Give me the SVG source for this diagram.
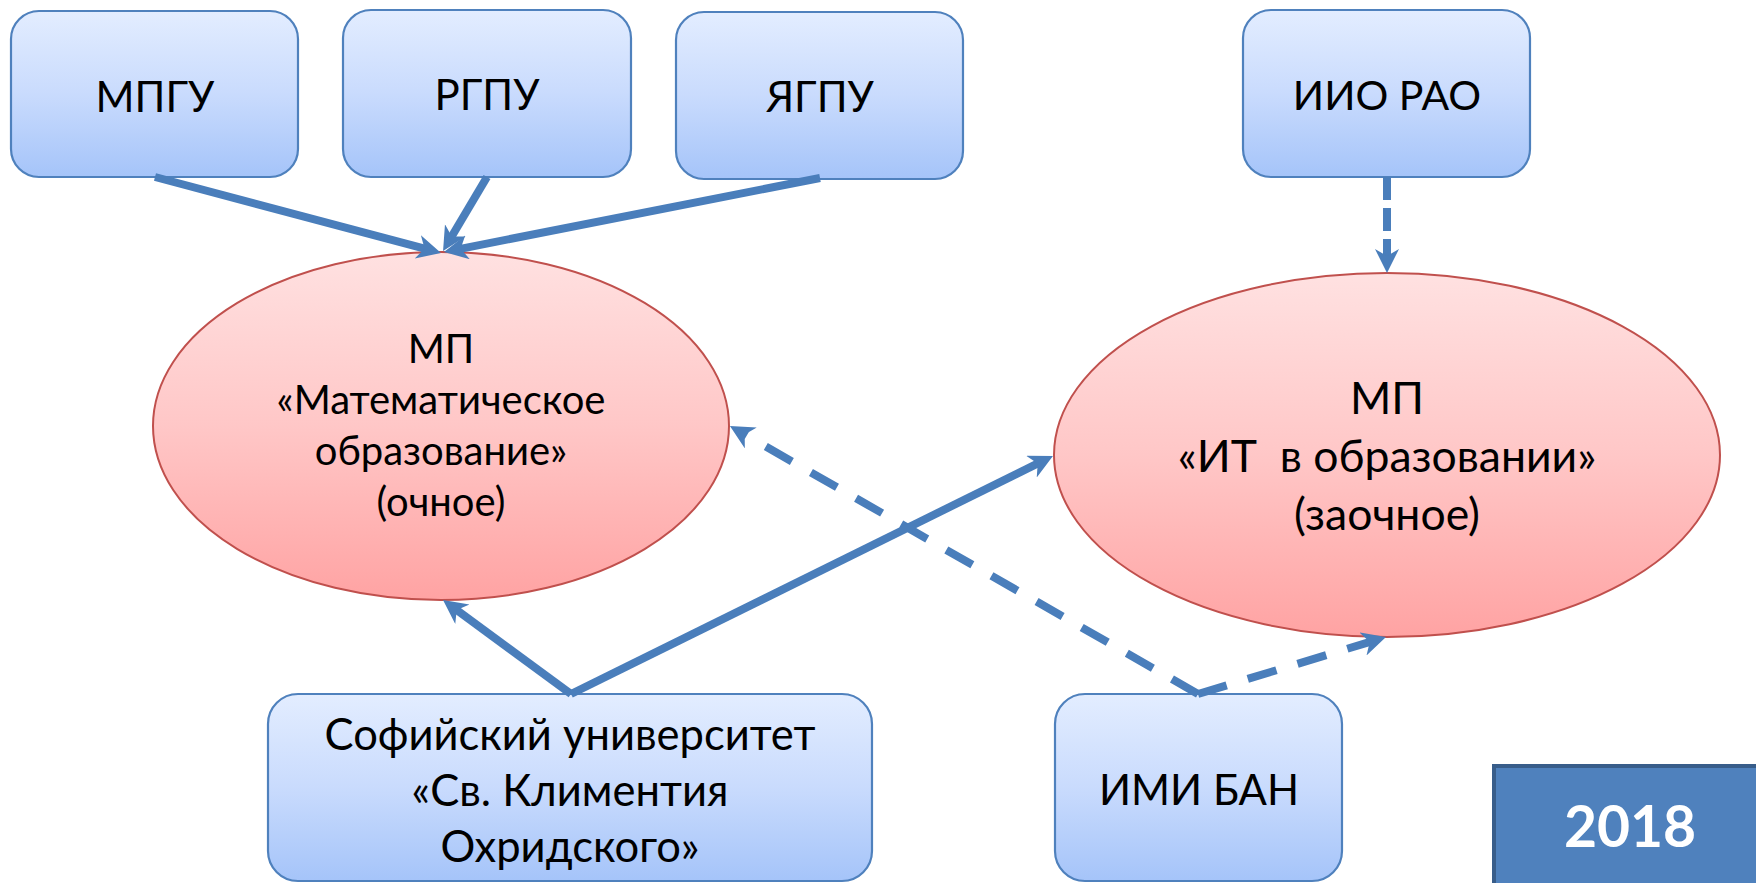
<svg xmlns="http://www.w3.org/2000/svg" width="1756" height="883" viewBox="0 0 1756 883">
<defs>
<linearGradient id="gBox" x1="0" y1="0" x2="0" y2="1">
<stop offset="0" stop-color="#E3EDFF"/>
<stop offset="0.5" stop-color="#C9DBFD"/>
<stop offset="1" stop-color="#A5C4F9"/>
</linearGradient>
<linearGradient id="gEll" x1="0" y1="0" x2="0" y2="1">
<stop offset="0" stop-color="#FFE1E1"/>
<stop offset="0.5" stop-color="#FFC7C7"/>
<stop offset="1" stop-color="#FFA3A3"/>
</linearGradient>
<marker id="arr" markerUnits="userSpaceOnUse" markerWidth="26" markerHeight="26" refX="10" refY="12" orient="auto">
<path d="M24,12 L0,0 L7,12 L0,24 Z" fill="#4A7EBB"/>
</marker>
<style>
.box{fill:url(#gBox);stroke:#4F81BD;stroke-width:2.2}
.ell{fill:url(#gEll);stroke:#C0504D;stroke-width:2}
.t{font-family:Lato,'Noto Sans',sans-serif;font-size:42px;fill:#000;text-anchor:middle}
.e1{font-size:40px}
.e2{font-size:44.5px}
.s{font-size:43.5px}
.c{fill:none;stroke:#4A7EBB;stroke-width:8;marker-end:url(#arr)}
.dash{stroke-dasharray:30 22}
.sdash{stroke-dasharray:23 8}
</style>
</defs>

<g id="node-mpgu">
<rect class="box" x="11" y="11" width="287" height="166" rx="28"/>
<text class="t" x="155" y="112">МПГУ</text>
</g>
<g id="node-rgpu">
<rect class="box" x="343" y="10" width="288" height="167" rx="28"/>
<text class="t" x="487" y="110">РГПУ</text>
</g>
<g id="node-yagpu">
<rect class="box" x="676" y="12" width="287" height="167" rx="28"/>
<text class="t" x="820" y="112">ЯГПУ</text>
</g>
<g id="node-iio">
<rect class="box" x="1243" y="10" width="287" height="167" rx="28"/>
<text class="t" style="font-size:41px" x="1387" y="110">ИИО РАО</text>
</g>

<g id="node-mp1">
<ellipse class="ell" cx="441" cy="426" rx="288" ry="174"/>
<text class="t e1" x="441" y="363">МП</text>
<text class="t e1" x="441" y="414">«Математическое</text>
<text class="t e1" x="441" y="465">образование»</text>
<text class="t e1" x="441" y="516">(очное)</text>
</g>
<g id="node-mp2">
<ellipse class="ell" cx="1387" cy="455" rx="333" ry="182"/>
<text class="t e2" x="1387" y="414">МП</text>
<text class="t e2" style="white-space:pre" x="1387" y="472" xml:space="preserve">«ИТ  в образовании»</text>
<text class="t e2" x="1387" y="530">(заочное)</text>
</g>

<g id="node-sofia">
<rect class="box" x="268" y="694" width="604" height="187" rx="30"/>
<text class="t s" x="570" y="750">Софийский университет</text>
<text class="t s" x="570" y="806">«Св. Климентия</text>
<text class="t s" x="570" y="862">Охридского»</text>
</g>
<g id="node-imi">
<rect class="box" x="1055" y="694" width="287" height="187" rx="30"/>
<text class="t" x="1199" y="805">ИМИ БАН</text>
</g>

<g id="node-2018">
<rect x="1494" y="766" width="300" height="150" fill="#4F81BD" stroke="#385D8A" stroke-width="4"/>
<text class="t" style="font-size:57px;font-weight:bold;fill:#FFFFFF" x="1630" y="847">2018</text>
</g>

<g id="connectors">
<line class="c" x1="155" y1="177" x2="427.5" y2="249.4"/>
<line class="c" x1="487" y1="177" x2="450.2" y2="239"/>
<line class="c" x1="820" y1="178" x2="457.7" y2="249.3"/>
<line class="c sdash" x1="1387" y1="177" x2="1387" y2="259"/>
<line class="c dash" x1="1198" y1="694" x2="742.1" y2="433"/>
<line class="c dash" x1="1198" y1="694" x2="1372.6" y2="641.1"/>
<line class="c" x1="571" y1="694" x2="454.3" y2="608.3"/>
<line class="c" x1="571" y1="694" x2="1040.4" y2="462.2"/>
</g>
</svg>
